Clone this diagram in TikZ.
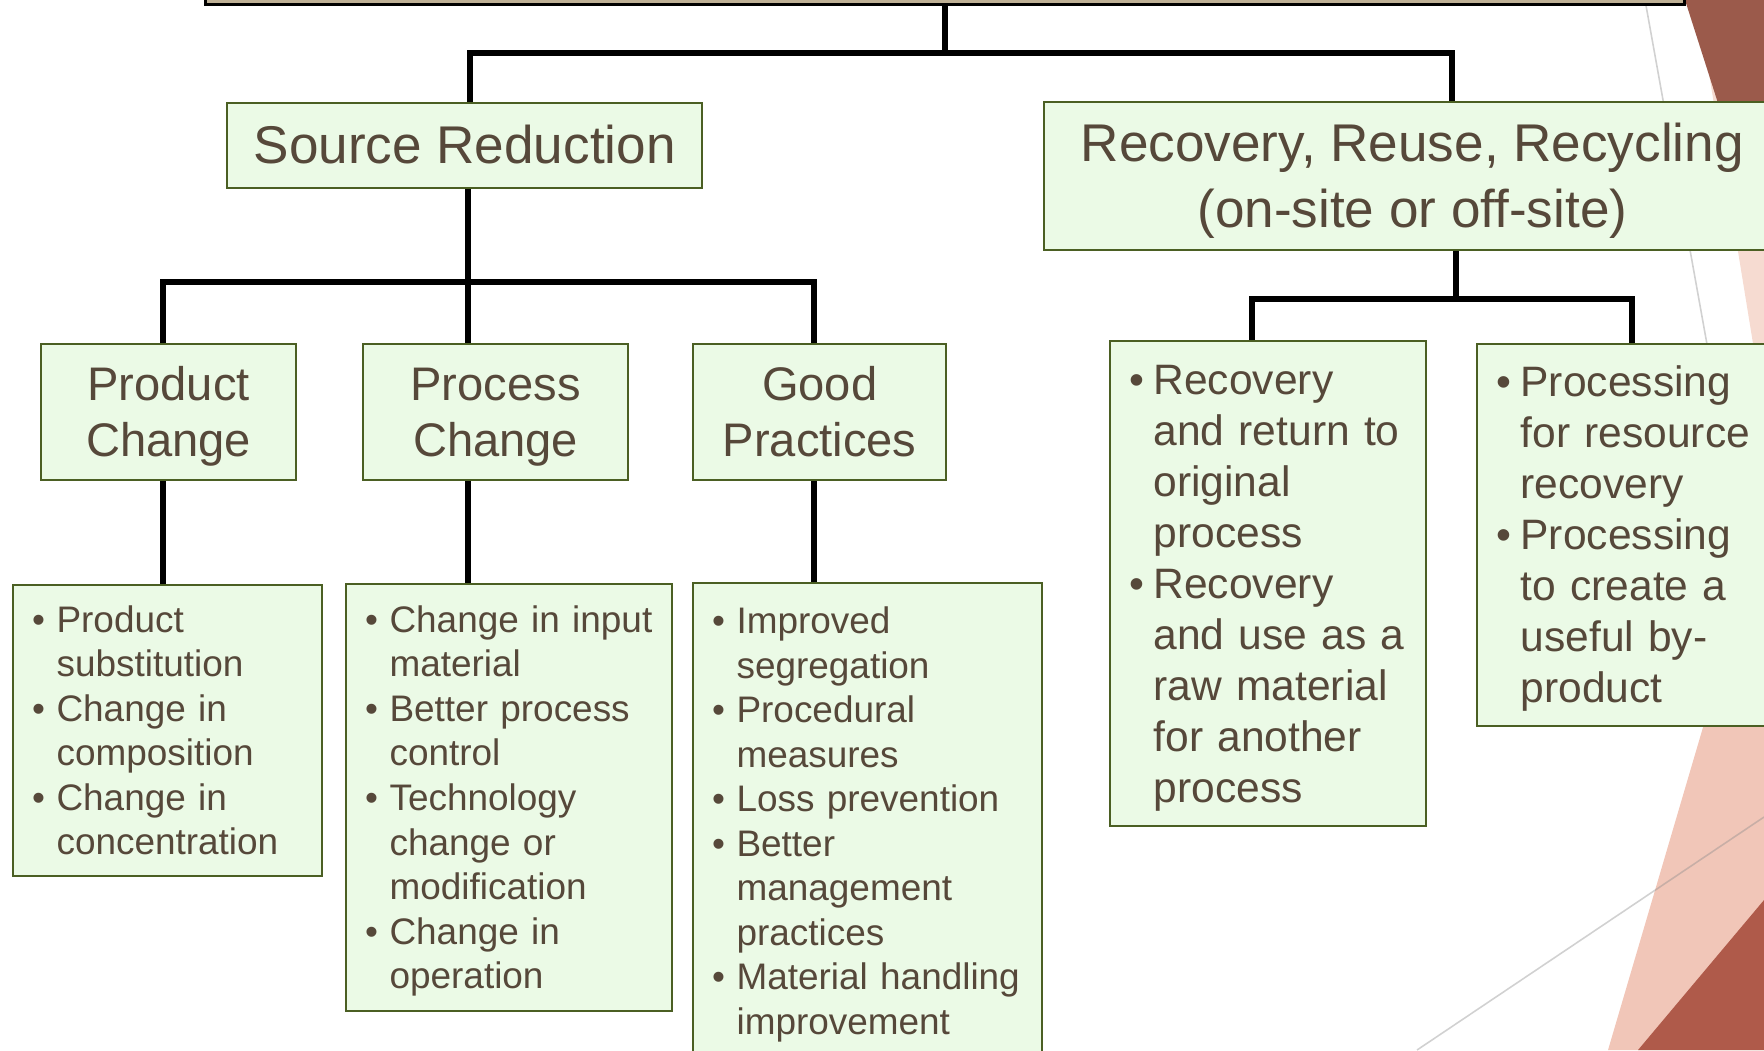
\documentclass[tikz,border=0pt]{standalone}
\usepackage{fontspec}
\setmainfont{Liberation Sans}

\definecolor{boxfill}{HTML}{EBFAE6}
\definecolor{boxline}{HTML}{4B5F23}
\definecolor{inktext}{HTML}{56483A}
\definecolor{topfill}{HTML}{BEB095}
\definecolor{rustdark}{HTML}{9B5A4B}
\definecolor{rustmid}{HTML}{AF5A4A}
\definecolor{blush}{HTML}{F1C6B8}
\definecolor{palepink}{HTML}{F6DBD1}

% bullet and hanging indent for the lists
\newcommand{\bmark}{\makebox[0.245cm][l]{\textbullet}}
\newcommand{\bpad}{\hspace*{0.245cm}}
% full ascent/descent, put on the first and last line so the block centres evenly
\newcommand{\lstrut}{\rule[-0.212em]{0pt}{1.117em}}

\begin{document}
\begin{tikzpicture}[
    % one unit = one pixel, y running down
    x=0.01cm, y=-0.01cm,
    % boxes
    base/.style={rectangle, draw=boxline, fill=boxfill, line width=0.6pt, text=inktext, inner sep=0pt, anchor=north west},
    head/.style={base, align=center, font=\fontsize{15.1}{19}\selectfont},
    branch/.style={base, align=center, font=\fontsize{13.4}{15.8}\selectfont},
    list/.style={base, align=left, inner xsep=0.19cm, font=\fontsize{10.5}{12.66}\selectfont},
    biglist/.style={list, font=\fontsize{12.1}{14.5}\selectfont},
    topbar/.style={rectangle, draw=black, fill=topfill, line width=0.9pt, anchor=south},
    % connectors
    link/.style={black, line width=1.6pt},
    % backdrop lines
    rule/.style={draw=black!45, draw opacity=0.4, line width=0.45pt},
  ]

  \useasboundingbox (0,0) rectangle (1764,1050);
  \clip (0,0) rectangle (1764,1050);

  % corner decoration
  \fill[palepink] (1697,0) -- (1764,0) -- (1764,411) -- cycle;
  \fill[rustdark] (1685,0) -- (1764,0) -- (1764,247) -- cycle;
  \fill[blush]    (1608,1050) -- (1764,1050) -- (1764,520) -- cycle;
  \fill[rustmid]  (1638,1050) -- (1764,1050) -- (1764,900) -- cycle;
  \draw[rule] (1645,0) -- (1764,661);
  \draw[rule] (1417,1050) -- (1764,817);

  % root (runs off the top edge)
  \node (top) [topbar, minimum width=14.78cm, minimum height=0.8cm] at (945,6) {};

  % first tier
  \node (src) [head, minimum width=4.75cm, minimum height=0.85cm] at (226,102) {\lstrut Source Reduction\lstrut};
  \node (rrr) [head, minimum width=7.36cm, minimum height=1.48cm] at (1043,101) {\lstrut Recovery, Reuse, Recycling\\
                                                                                  (on-site or off-site)\lstrut};

  % second tier
  \node (prod) [branch, minimum width=2.55cm, minimum height=1.36cm] at (40,343)  {\lstrut Product\\Change\lstrut};
  \node (proc) [branch, minimum width=2.65cm, minimum height=1.36cm] at (362,343) {\lstrut Process\\Change\lstrut};
  \node (good) [branch, minimum width=2.53cm, minimum height=1.36cm] at (692,343) {\lstrut Good\\Practices\lstrut};

  % lists
  \node (prodlist) [list, text width=2.71cm, minimum height=2.91cm] at (12,584)
        {\lstrut\bmark Product\\ \bpad substitution\\
         \bmark Change in\\ \bpad composition\\
         \bmark Change in\\ \bpad concentration\lstrut};
  \node (proclist) [list, text width=2.88cm, minimum height=4.27cm] at (345,583)
        {\lstrut\bmark Change in input\\ \bpad material\\
         \bmark Better process\\ \bpad control\\
         \bmark Technology\\ \bpad change or\\ \bpad modification\\
         \bmark Change in\\ \bpad operation\lstrut};
  \node (goodlist) [list, text width=3.11cm, minimum height=4.76cm] at (692,582)
        {\lstrut\bmark Improved\\ \bpad segregation\\
         \bmark Procedural\\ \bpad measures\\
         \bmark Loss prevention\\
         \bmark Better\\ \bpad management\\ \bpad practices\\
         \bmark Material handling\\ \bpad improvement\lstrut};
  \node (reclist) [biglist, text width=2.78cm, minimum height=4.85cm] at (1109,340)
        {\lstrut\bmark Recovery\\ \bpad and return to\\ \bpad original\\ \bpad process\\
         \bmark Recovery\\ \bpad and use as a\\ \bpad raw material\\ \bpad for another\\ \bpad process\lstrut};
  \node (treatlist) [biglist, text width=2.72cm, minimum height=3.82cm] at (1476,343)
        {\lstrut\bmark Processing\\ \bpad for resource\\ \bpad recovery\\
         \bmark Processing\\ \bpad to create a\\ \bpad useful by-\\ \bpad product\lstrut};

  % bus joints and drop columns
  \coordinate (busA) at (945,53);
  \coordinate (busB) at (468,282);
  \coordinate (busC) at (1456,299);
  \coordinate (colA) at (163,0);
  \coordinate (colC) at (814,0);
  \coordinate (colD) at (1252,0);
  \coordinate (colG) at (470,0);
  \coordinate (colH) at (1452,0);

  % root to first tier
  \draw[link] (top.south) -- (busA);
  \draw[link] (src.north -| colG) |- (busA) -| (rrr.north -| colH);

  % source reduction branches
  \draw[link] (src.south -| busB) -- (proc.north -| busB);
  \draw[link] (prod.north -| colA) |- (busB) -| (good.north -| colC);
  \draw[link] (prod.south -| colA) -- (prodlist.north -| colA);
  \draw[link] (proc.south -| busB) -- (proclist.north -| busB);
  \draw[link] (good.south -| colC) -- (goodlist.north -| colC);

  % recovery branches
  \draw[link] (rrr.south -| busC) -- (busC);
  \draw[link] (reclist.north -| colD) |- (busC) -| (treatlist.north);

\end{tikzpicture}
\end{document}
